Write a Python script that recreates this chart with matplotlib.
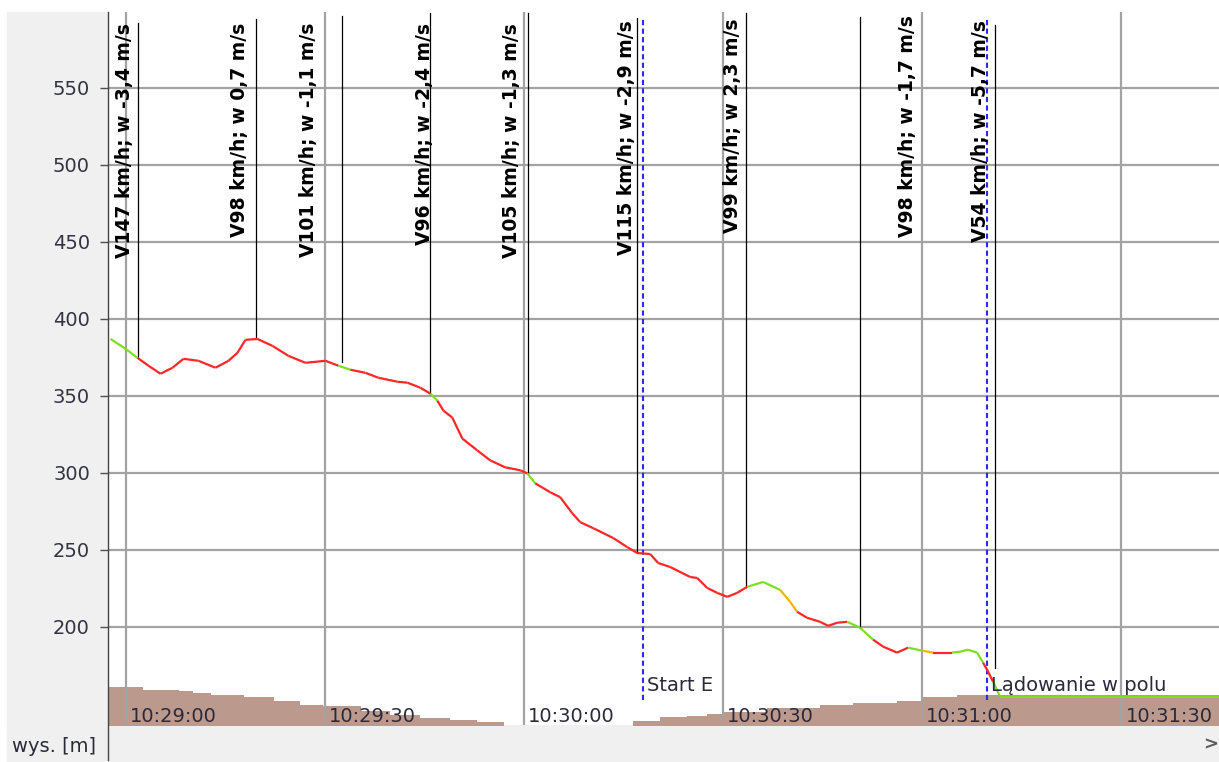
import matplotlib
matplotlib.use("Agg")
import matplotlib.pyplot as plt
from matplotlib.collections import LineCollection
from matplotlib.lines import Line2D
from matplotlib.patches import Rectangle
import numpy as np

# time in seconds after 10:29:00, altitude in m
flight_t = [-2.26, 0.0, 1.81, 3.46, 5.27, 7.08, 8.73, 10.99, 13.55, 15.51,
            16.86, 18.06, 19.87, 22.13, 24.54, 27.10, 30.11, 32.06, 33.87, 36.13,
            38.09, 40.95, 42.45, 44.41, 45.91, 46.97, 47.87, 49.22, 50.73, 52.99,
            54.95, 57.20, 59.46, 60.51, 61.72, 63.98, 65.48, 67.29, 68.49, 70.45,
            73.46, 75.57, 77.08, 79.03, 80.23, 82.04, 85.05, 86.11, 87.61, 89.12,
            90.62, 92.13, 93.63, 96.04, 98.60, 100.10, 101.16, 102.66, 104.62, 105.83,
            107.18, 108.69, 110.64, 112.60, 114.11, 116.21, 117.87, 119.98, 121.63, 124.49,
            125.70, 126.90, 128.26, 129.16, 129.76, 130.66, 131.72, 164.7]
flight_alt = [386.9, 380.5, 374.6, 369.5, 364.3, 368.2, 374.0, 372.7, 368.2, 372.7,
              377.9, 386.3, 386.9, 382.4, 375.9, 371.4, 372.7, 369.5, 366.9, 364.9,
              361.7, 359.1, 358.5, 355.2, 351.4, 346.8, 340.4, 335.8, 322.2, 314.5,
              308.0, 303.5, 301.6, 299.6, 293.1, 287.3, 284.1, 273.7, 267.9, 264.0,
              257.6, 251.7, 247.9, 247.2, 241.4, 238.8, 232.3, 231.7, 225.2, 222.0,
              219.4, 222.0, 225.9, 229.1, 223.9, 216.2, 209.7, 205.8, 203.2, 200.6,
              202.6, 203.2, 199.4, 191.6, 187.1, 183.2, 186.4, 184.5, 183.2, 183.2,
              183.8, 185.1, 183.2, 176.7, 172.2, 164.4, 154.7, 154.7]
# colour code of each segment: g = climb/neutral, r = sink, y = weak
seg_codes = list("gg" + "r" * 15 + "g" + "r" * 6 + "g" + "r" * 8 + "g"
                 + "r" * 18 + "gg" + "yy" + "r" * 5 + "gg" + "rrr" + "g" + "y" + "r"
                 + "gggg" + "rr" + "gg")

terrain_t = [-3.0, 2.7, 8.0, 10.1, 12.8, 17.8, 22.3, 26.3, 29.8, 35.4, 39.9, 44.4,
             48.9, 53.0, 57.0, 76.5, 80.5, 84.6, 87.6, 90.0, 96.6, 104.6, 109.6,
             116.2, 120.1, 125.2, 166.0]
terrain_alt = [161.2, 159.2, 158.0, 157.0, 156.0, 154.1, 151.5, 149.5, 148.3, 145.0,
               142.4, 140.5, 139.2, 137.9, 130.0, 138.6, 141.1, 141.8, 143.1, 144.4,
               147.0, 149.5, 150.8, 152.1, 154.1, 155.4, 155.4]

labels = ["V147 km/h; w -3,4 m/s", "V98 km/h; w 0,7 m/s", "V101 km/h; w -1,1 m/s",
          "V96 km/h; w -2,4 m/s", "V105 km/h; w -1,3 m/s", "V115 km/h; w -2,9 m/s",
          "V99 km/h; w 2,3 m/s", "V98 km/h; w -1,7 m/s", "V54 km/h; w -5,7 m/s"]
label_t = [-0.2, 17.2, 27.6, 45.0, 58.1, 75.4, 91.4, 117.8, 128.8]
label_top = [592, 592, 592, 592, 592, 594, 595, 597, 594]
marker_t = [1.84, 19.6, 32.6, 45.9, 60.6, 77.0, 93.4, 110.7, 130.9]
marker_top = [592, 594.6, 596.6, 598.5, 598.5, 595.3, 598.5, 596, 590.7]
marker_bottom = [374.6, 387.0, 371.9, 351.4, 299.6, 247.9, 225.9, 199.4, 173.2]

events = ["Start E", "Lądowanie w polu"]
event_t = [77.9, 129.7]

yticks = [200, 250, 300, 350, 400, 450, 500, 550]
xticks = [0, 30, 60, 90, 120, 150]
xtick_labels = ["10:29:00", "10:29:30", "10:30:00", "10:30:30", "10:31:00", "10:31:30"]

W, H = 1219, 762
fig = plt.figure(figsize=(W / 100, H / 100), dpi=100)
fig.patch.set_facecolor("white")
fig.patches.append(Rectangle((7 / W, 0), 101 / W, 750 / H, transform=fig.transFigure,
                             color="#f0f0f0", zorder=-2))
fig.patches.append(Rectangle((7 / W, 0), 1 - 7 / W, 37 / H, transform=fig.transFigure,
                             color="#f0f0f0", zorder=-2))

ax = fig.add_axes([108 / W, 37 / H, (W - 108) / W, 713 / H])
ax.set_xlim(-2.64, 164.7)
ax.set_ylim(136.2, 599.2)
for s in ax.spines.values():
    s.set_visible(False)

ax.fill_between(terrain_t, terrain_alt, 100, step="post", color="#bb998c", lw=0, zorder=1)

ax.set_yticks(yticks)
ax.set_xticks(xticks)
ax.grid(True, color="#a3a3a3", lw=1.6)
ax.tick_params(axis="y", length=6, width=1, color="#505050", pad=7,
               labelsize=14, labelcolor="#333344")
ax.tick_params(axis="x", length=0, labelbottom=False)
for t, lab in zip(xticks, xtick_labels):
    ax.annotate(lab, xy=(t, 0), xycoords=("data", "axes fraction"),
                xytext=(4, 3), textcoords="offset pixels", ha="left",
                va="baseline", fontsize=14, color="#2a2a3a", zorder=5)

# flight track coloured by climb rate
cmap = {"g": "#7ddf22", "r": "#ff2626", "y": "#f2b400"}
pts = np.column_stack([flight_t, flight_alt])
segs = np.stack([pts[:-1], pts[1:]], axis=1)
lc = LineCollection(segs, colors=[cmap[c] for c in seg_codes], linewidths=1.6, zorder=4)
ax.add_collection(lc)

# annotation markers
for lab, lt, ltop, mt, mtop, mbot in zip(labels, label_t, label_top, marker_t,
                                          marker_top, marker_bottom):
    ax.plot([mt, mt], [mbot, mtop], color="black", lw=0.9, zorder=3)
    ax.text(lt, ltop, lab, rotation=90, ha="center", va="top", fontsize=13.5,
            fontweight="bold", color="black", zorder=6)

for ev, et in zip(events, event_t):
    ax.plot([et, et], [152.4, 596], color="#2a2ae8", lw=1.5,
            linestyle=(0, (2.5, 1.6)), zorder=3)
    ax.annotate(ev, xy=(et, 158), xytext=(4, 0), textcoords="offset pixels",
                ha="left", va="baseline", fontsize=14, color="#2a2a3a", zorder=6)

fig.add_artist(Line2D([108 / W, 108 / W], [2 / H, 750 / H], color="#454545", lw=1))
fig.text(12 / W, 10 / H, "wys. [m]", fontsize=14, color="#2a2a3a", va="baseline")
fig.text(1203 / W, 17 / H, ">", fontsize=13, fontweight="bold", color="#5a5a5a",
         va="center")

fig.savefig("out.png", dpi=100, facecolor=fig.get_facecolor())
